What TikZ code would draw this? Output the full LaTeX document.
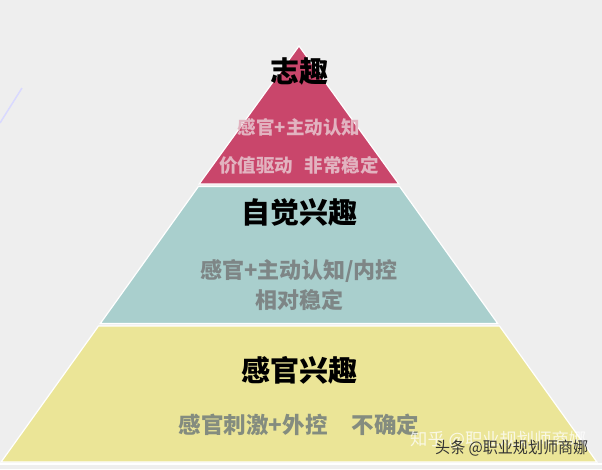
\documentclass[tikz,border=0pt]{standalone}
\usepackage{fontspec}
\setmainfont{Noto Sans CJK SC}
\usepackage{tikz}

\definecolor{bggray}{HTML}{EEEEEE}
\definecolor{topred}{HTML}{C9466B}
\definecolor{midcyan}{HTML}{A9CFCD}
\definecolor{lowyellow}{HTML}{EBE597}
\definecolor{redtext}{HTML}{E2B3C0}
\definecolor{graytext}{HTML}{7E8686}

\tikzset{
    band/.style={draw=white, line width=1.2pt, line join=miter},
    title/.style={font=\fontsize{29}{29}\selectfont\bfseries, text=black, inner sep=0pt},
    note/.style={font=\fontsize{#1}{#1}\selectfont\bfseries, inner sep=0pt},
    mark text/.style={inner sep=0pt, anchor=west}
}

\begin{document}
\begin{tikzpicture}[x=1pt, y=-1pt]
    \useasboundingbox (0,0) rectangle (602,469);
    \fill[bggray] (0,0) rectangle (602,469);

    \draw[line width=1.5pt, color=blue!15] (22,88) -- (0,123);

    \draw[band, fill=topred] (299,46) -- (398.8,184) -- (199.2,184) -- cycle;
    \draw[band, fill=midcyan] (198.4,186.5) -- (399.6,186.5) -- (497.7,323.5) -- (100.3,323.5) -- cycle;
    \draw[band, fill=lowyellow] (98.5,326) -- (499.5,326) -- (596.9,462) -- (1.1,462) -- cycle;
    \draw[white, line width=1.5pt] (0,464) -- (602,464);

    \node[title] (zhiqu) at (299,72) {志趣};
    \node[note=18.5, text=redtext] (redone) at (299,127) {感官+主动认知};
    \node[note=18.5, text=redtext] (redtwo) at (299,165) {价值驱动\hspace{12pt}非常稳定};

    \node[title] (zijue) at (299,212) {自觉兴趣};
    \node[note=22, text=graytext] (cyanone) at (299,271) {感官+主动认知/内控};
    \node[note=22, text=graytext] (cyantwo) at (299,300) {相对稳定};

    \node[title] (ganguan) at (299,370) {感官兴趣};
    \node[note=22.5, text=graytext!95!yellow] (yellowone) at (299,425) {感官刺激+外控\hspace{24pt}不确定};

    \node[mark text, text=white, opacity=0.75] (zhihu) at (410,440) {\resizebox{176pt}{\height}{\fontsize{17}{17}\selectfont 知乎 @职业规划师商娜}};
    \node[mark text, text=black!80] (toutiao) at (435,448) {\resizebox{153pt}{\height}{\fontsize{16}{16}\selectfont 头条 @职业规划师商娜}};
\end{tikzpicture}
\end{document}
